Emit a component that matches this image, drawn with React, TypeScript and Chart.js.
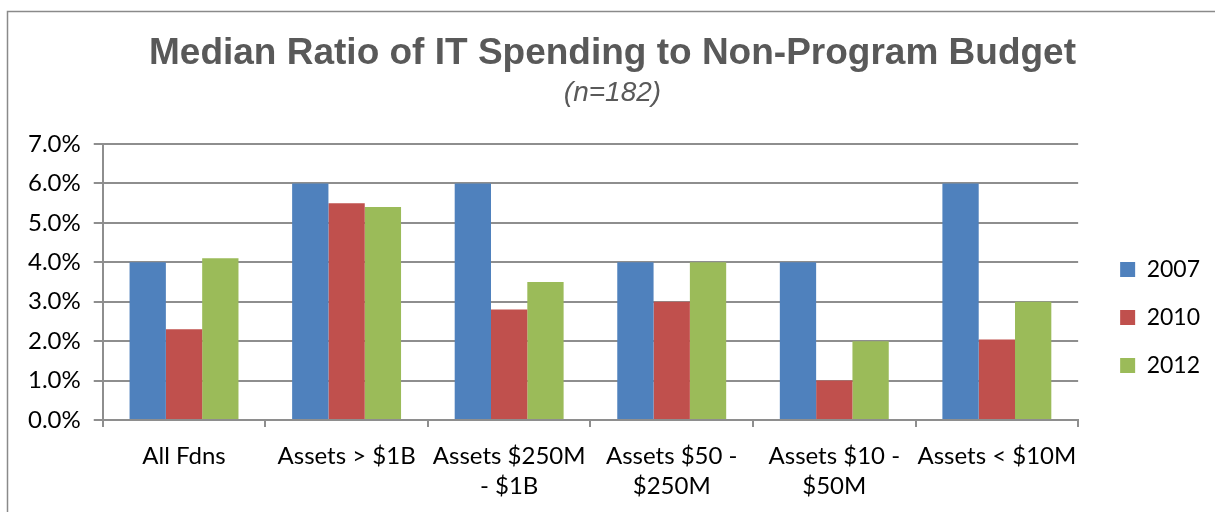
import React, { useEffect, useRef } from "react";
import { Chart, registerables } from "chart.js";

Chart.register(...registerables);

const categories: string[][] = [
  ["All Fdns"],
  ["Assets > $1B"],
  ["Assets $250M", "- $1B"],
  ["Assets $50 -", "$250M"],
  ["Assets $10 -", "$50M"],
  ["Assets < $10M"],
];
const seriesNames = ["2007", "2010", "2012"];
const values2007 = [4.0, 6.0, 6.0, 4.0, 4.0, 6.0];
const values2010 = [2.3, 5.5, 2.8, 3.0, 1.0, 2.04];
const values2012 = [4.1, 5.4, 3.5, 4.0, 2.0, 3.0];
const seriesColors = ["#4F81BD", "#C0504D", "#9BBB59"];
const yMin = 0;
const yMax = 7;
const yStep = 1;

const titleText = "Median Ratio of IT Spending to Non-Program Budget";
const subtitleText = "(n=182)";

const gridColor = "#8e8e8e";

const framePlugin = {
  id: "frame",
  beforeDraw(chart: any) {
    const ctx = chart.ctx;
    ctx.save();
    ctx.fillStyle = "#ffffff";
    ctx.fillRect(0, 0, chart.width, chart.height);
    ctx.strokeStyle = "#8a8a8a";
    ctx.lineWidth = 1.5;
    ctx.beginPath();
    ctx.moveTo(7.5, chart.height + 5);
    ctx.lineTo(7.5, 11.5);
    ctx.lineTo(chart.width + 5, 11.5);
    ctx.stroke();
    ctx.restore();
  },
};

export default function App() {
  const ref = useRef<HTMLCanvasElement | null>(null);
  useEffect(() => {
    if (!ref.current) return;
    let chart: Chart | null = null;
    let cancelled = false;
    const make = () => {
      if (cancelled || !ref.current) return;
      const data = [values2007, values2010, values2012];
      chart = new Chart(ref.current, {
        type: "bar",
        data: {
          labels: categories,
          datasets: seriesNames.map((name, i) => ({
            label: name,
            data: data[i],
            backgroundColor: seriesColors[i],
            borderWidth: 0,
            categoryPercentage: 0.67,
            barPercentage: 1,
          })),
        },
        options: {
          animation: false,
          responsive: true,
          maintainAspectRatio: false,
          layout: { padding: { left: 15, right: 5, top: 0, bottom: -3 } },
          plugins: {
            title: {
              display: true,
              text: titleText,
              color: "#595959",
              font: { family: "'Liberation Sans', Arial, sans-serif", size: 37, weight: "bold", lineHeight: 1.2 },
              padding: { top: 32, bottom: 0 },
            },
            subtitle: {
              display: true,
              text: subtitleText,
              color: "#595959",
              font: { family: "'Liberation Sans', Arial, sans-serif", size: 28, style: "italic", lineHeight: 1.2 },
              padding: { top: 0, bottom: 34 },
            },
            legend: {
              position: "right",
              fullSize: false,
              title: { display: true, text: " ", font: { size: 10, lineHeight: 1.2 }, padding: { top: 59, bottom: 0 } },
              labels: {
                boxWidth: 15,
                boxHeight: 15,
                padding: 25,
                color: "#000000",
                font: { family: "Lato, sans-serif", size: 23 },
              },
            },
            tooltip: { enabled: false },
          },
          scales: {
            x: {
              grid: {
                display: true,
                drawOnChartArea: false,
                drawTicks: true,
                tickLength: 7,
                color: gridColor,
                lineWidth: 2,
                offset: true,
              },
              border: { display: true, color: gridColor, width: 2 },
              ticks: {
                color: "#000000",
                font: { family: "Lato, sans-serif", size: 24, lineHeight: 1.25 },
                padding: 14,
                autoSkip: false,
                maxRotation: 0,
                minRotation: 0,
              },
            },
            y: {
              min: yMin,
              max: yMax,
              grid: {
                color: gridColor,
                lineWidth: 2,
                drawTicks: true,
                tickLength: 9,
              },
              border: { display: true, color: gridColor, width: 2 },
              ticks: {
                stepSize: yStep,
                color: "#000000",
                font: { family: "Lato, sans-serif", size: 24 },
                padding: 13,
                callback: (v: any) => Number(v).toFixed(1) + "%",
              },
            },
            spacer: {
              type: "linear",
              position: "right",
              display: true,
              grid: { display: false, drawTicks: true, tickLength: 17 },
              border: { display: false },
              ticks: { display: false },
            },
          },
        },
        plugins: [framePlugin],
      });
    };
    const fontsReady = (document as any).fonts
      ? Promise.all([
          (document as any).fonts.load("24px Lato"),
          (document as any).fonts.load("bold 37px 'Liberation Sans'"),
          (document as any).fonts.load("italic 28px 'Liberation Sans'"),
        ]).catch(() => null)
      : Promise.resolve(null);
    fontsReady.then(make);
    return () => {
      cancelled = true;
      if (chart) chart.destroy();
    };
  }, []);
  return (
    <div style={{ position: "absolute", left: 0, top: 0, width: 1215, height: 512 }}>
      <canvas ref={ref} />
    </div>
  );
}
